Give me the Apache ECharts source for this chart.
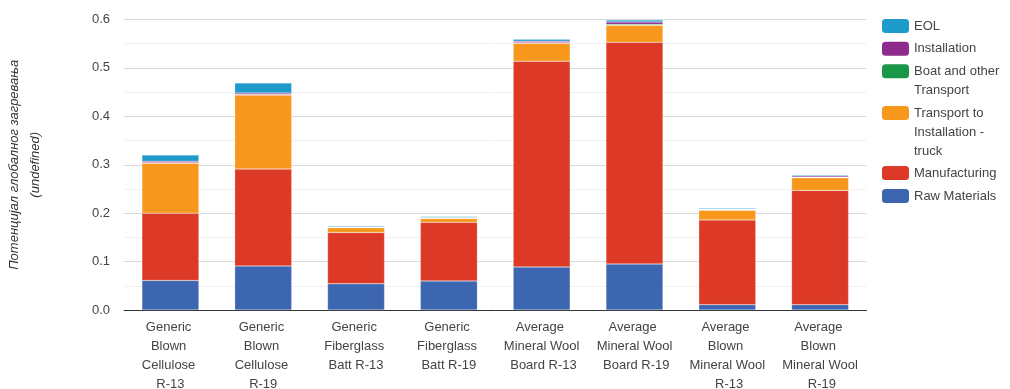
<!DOCTYPE html>
<html>
<head>
<meta charset="utf-8">
<script src="https://cdn.jsdelivr.net/npm/echarts@6/dist/echarts.min.js"></script>
<style>
html,body{margin:0;padding:0;background:#fff;}
#chart{width:1010px;height:389px;}
</style>
</head>
<body>
<div id="chart"></div>
<script>
var categories = [
  "Generic Blown Cellulose R-13",
  "Generic Blown Cellulose R-19",
  "Generic Fiberglass Batt R-13",
  "Generic Fiberglass Batt R-19",
  "Average Mineral Wool Board R-13",
  "Average Mineral Wool Board R-19",
  "Average Blown Mineral Wool R-13",
  "Average Blown Mineral Wool R-19"
];
var rawMaterials   = [0.061, 0.091, 0.054, 0.060, 0.089, 0.095, 0.011, 0.011];
var manufacturing  = [0.139, 0.200, 0.106, 0.121, 0.425, 0.458, 0.175, 0.236];
var transportTruck = [0.103, 0.153, 0.010, 0.008, 0.037, 0.035, 0.020, 0.026];
var boatTransport  = [0.001, 0.001, 0.001, 0.001, 0.001, 0.002, 0.001, 0.001];
var installation   = [0.003, 0.003, 0.001, 0.001, 0.003, 0.005, 0.001, 0.003];
var eol            = [0.013, 0.021, 0.002, 0.002, 0.004, 0.004, 0.002, 0.002];
var yTicks = [0, 0.1, 0.2, 0.3, 0.4, 0.5, 0.6];

var seriesNames = ["Raw Materials", "Manufacturing", "Transport to Installation - truck",
                   "Boat and other Transport", "Installation", "EOL"];
var seriesData = [rawMaterials, manufacturing, transportTruck, boatTransport, installation, eol];
var seriesColors = ["#3d66b0", "#dc3a26", "#f7981d", "#1a9847", "#8e2b8c", "#1f9bcb"];

var FONT = "Liberation Sans, Arial, sans-serif";
var chart = echarts.init(document.getElementById('chart'), null, {renderer: 'canvas'});

var legendLayout = [
  {name: "EOL", center: 26, first: "EOL", rest: []},
  {name: "Installation", center: 48.7, first: "Installation", rest: []},
  {name: "Boat and other Transport", center: 71.3, first: "Boat and other", rest: ["Transport"]},
  {name: "Transport to Installation - truck", center: 113, first: "Transport to", rest: ["Installation -", "truck"]},
  {name: "Manufacturing", center: 173, first: "Manufacturing", rest: []},
  {name: "Raw Materials", center: 196, first: "Raw Materials", rest: []}
];
var legends = [];
var graphics = [];
legendLayout.forEach(function (it) {
  legends.push({
    orient: 'vertical',
    left: 882,
    top: it.center - 7,
    padding: 0,
    itemWidth: 27,
    itemHeight: 14,
    itemGap: 0,
    itemStyle: {borderWidth: 0},
    data: [it.name],
    formatter: function () { return it.first; },
    textStyle: {fontFamily: FONT, fontSize: 13, color: '#444'}
  });
  it.rest.forEach(function (line, i) {
    graphics.push({
      type: 'text',
      left: 914,
      top: it.center + 19 * (i + 1) - 6.5,
      style: {text: line, fontFamily: FONT, fontSize: 13, fill: '#444'}
    });
  });
});

var option = {
  animation: false,
  backgroundColor: '#fff',
  grid: {left: 124, right: 143.5, top: 19.5, bottom: 79, containLabel: false, outerBoundsMode: 'none'},
  legend: legends,
  graphic: graphics,
  xAxis: {
    type: 'category',
    data: categories,
    axisLine: {lineStyle: {color: '#333', width: 1}},
    axisTick: {show: false},
    axisLabel: {
      interval: 0,
      margin: 8,
      width: 78,
      overflow: 'break',
      fontFamily: FONT,
      fontSize: 13,
      lineHeight: 19,
      color: '#444'
    }
  },
  yAxis: {
    type: 'value',
    min: yTicks[0],
    max: yTicks[yTicks.length - 1],
    interval: 0.1,
    name: 'Потенцијал глобалног загревања\n(undefined)',
    nameLocation: 'middle',
    nameGap: 78,
    nameTextStyle: {fontFamily: FONT, fontSize: 13, fontStyle: 'italic', color: '#333', lineHeight: 21},
    axisLine: {show: false},
    axisTick: {show: false},
    axisLabel: {
      margin: 14,
      fontFamily: FONT,
      fontSize: 13,
      color: '#444',
      formatter: function (v) { return v.toFixed(1); }
    },
    splitLine: {lineStyle: {color: '#dadada', width: 1}},
    minorTick: {show: false, splitNumber: 2},
    minorSplitLine: {show: true, lineStyle: {color: '#f0f0f0', width: 1}}
  },
  series: seriesNames.map(function (n, i) {
    return {
      name: n,
      type: 'bar',
      stack: 'total',
      barWidth: 57,
      data: seriesData[i],
      itemStyle: {color: seriesColors[i], borderColor: 'rgba(255,255,255,0.4)', borderWidth: 0.5},
      emphasis: {disabled: true}
    };
  })
};
chart.setOption(option);
</script>
</body>
</html>
